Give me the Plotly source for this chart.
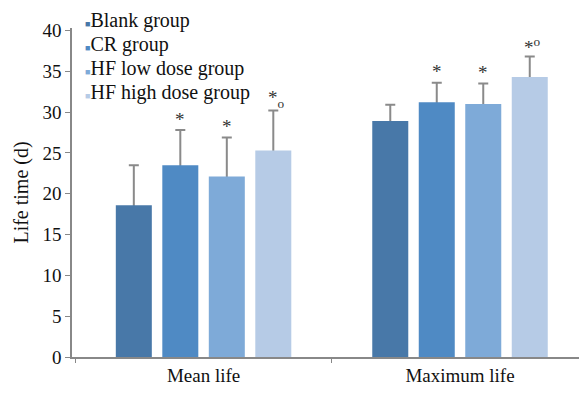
import plotly.graph_objects as go

categories = ["Mean life", "Maximum life"]
groups = ["Blank group", "CR group", "HF low dose group", "HF high dose group"]
colors = ["#4878a8", "#4f8ac4", "#7eaad8", "#b6cbe6"]
values = {
    "Blank group": [18.6, 28.9],
    "CR group": [23.5, 31.2],
    "HF low dose group": [22.1, 31.0],
    "HF high dose group": [25.3, 34.3],
}
errors = {
    "Blank group": [4.9, 2.0],
    "CR group": [4.3, 2.4],
    "HF low dose group": [4.8, 2.5],
    "HF high dose group": [4.9, 2.5],
}
marks = {
    "Blank group": ["", ""],
    "CR group": ["*", "*"],
    "HF low dose group": ["*", "*"],
    "HF high dose group": ["*<sub>o</sub>", "*<sup>o</sup>"],
}

FONT = "Liberation Serif"
BAR_W = 0.1404
STEP = 0.1813
fig = go.Figure()
# error bars first (under the bars)
for i, g in enumerate(groups):
    fig.add_trace(go.Bar(
        x=categories, y=values[g], width=BAR_W, offset=(i - 1.5) * STEP - BAR_W / 2,
        marker=dict(color="rgba(0,0,0,0)", line=dict(width=0)),
        error_y=dict(type="data", array=errors[g], color="#8a8a8a", thickness=2, width=5),
        showlegend=False, hoverinfo="skip",
    ))
for i, (g, c) in enumerate(zip(groups, colors)):
    fig.add_trace(go.Bar(
        x=categories, y=values[g], name=g, width=BAR_W, offset=(i - 1.5) * STEP - BAR_W / 2,
        marker=dict(color=c, line=dict(width=0)), showlegend=False,
    ))

bar_step_px = 46.5
for i, g in enumerate(groups):
    for j, cat in enumerate(categories):
        if marks[g][j]:
            fig.add_annotation(x=cat, y=values[g][j] + errors[g][j], text=marks[g][j],
                               xshift=(i - 1.5) * bar_step_px + (3 if "o" in marks[g][j] else 0),
                               yshift=11, showarrow=False,
                               font=dict(family=FONT, size=19, color="#333333"))

# legend as text annotations
for i, (g, c) in enumerate(zip(groups, colors)):
    fig.add_annotation(xref="paper", yref="paper", x=0.022, y=1.0, yshift=8 - 24 * i,
                       xanchor="left", yanchor="middle", showarrow=False, align="left",
                       text=f'<span style="color:{c};font-size:9px">■</span>{g}',
                       font=dict(family=FONT, size=20, color="#111"))

fig.update_layout(
    width=579, height=395,
    margin=dict(l=72, r=0, t=28, b=38),
    paper_bgcolor="white", plot_bgcolor="white",
    barmode="overlay",
    font=dict(family=FONT, size=20, color="#111"),
    xaxis=dict(range=[-0.513, 1.464], showline=True, linecolor="#888", linewidth=1.5,
               ticks="outside", tickson="boundaries", ticklen=4, tickcolor="#888",
               showgrid=False, tickfont=dict(size=19)),
    yaxis=dict(range=[0, 40.3], tickvals=[0, 5, 10, 15, 20, 25, 30, 35, 40],
               showline=True, linecolor="#888", linewidth=1.5, ticks="outside", ticklen=5,
               tickcolor="#888", showgrid=False, zeroline=False,
               title=dict(text="Life time (d)", font=dict(size=20), standoff=8),
               tickfont=dict(size=19)),
)
fig.write_html("out.html")
